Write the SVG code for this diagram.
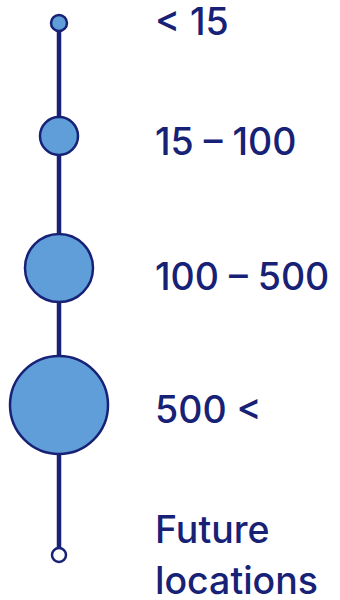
<svg xmlns="http://www.w3.org/2000/svg" width="340" height="600" viewBox="0 0 340 600">
<style>
.n{fill:#5f9ed8;stroke:#172176;stroke-width:2.5}
.f{fill:#ffffff;stroke:#172176;stroke-width:2.5}
.c{stroke:#172176;stroke-width:4.5;fill:none}
text{font-family:Inter,"Noto Sans",sans-serif;font-size:37.5px;font-weight:500;fill:#172176}
</style>
<rect width="340" height="600" fill="#ffffff"/>
<g id="connectors">
<line class="c" x1="59" y1="23" x2="59" y2="555"/>
</g>
<g id="n1"><circle class="n" cx="59" cy="23" r="8"/><text x="155" y="35">&lt; 15</text></g>
<g id="n2"><circle class="n" cx="59" cy="136" r="19"/><text x="155" y="155">15 – 100</text></g>
<g id="n3"><circle class="n" cx="59" cy="268" r="34"/><text x="155" y="290">100 – 500</text></g>
<g id="n4"><circle class="n" cx="59" cy="405" r="49"/><text x="155" y="423">500 &lt;</text></g>
<g id="n5"><circle class="f" cx="59" cy="555" r="7"/><text x="155" y="543">Future</text><text x="155" y="594">locations</text></g>
</svg>
